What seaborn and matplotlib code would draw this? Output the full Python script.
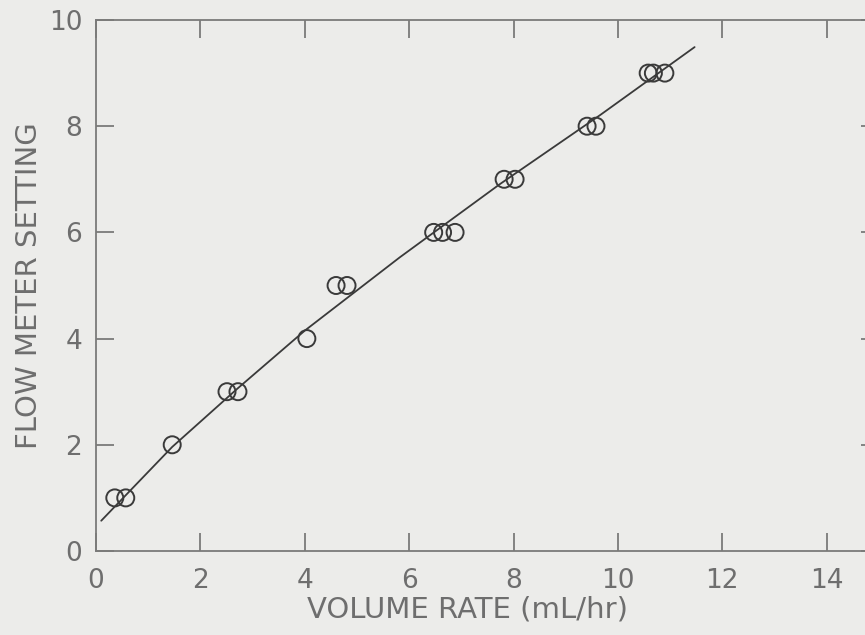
# Flow meter calibration: setting vs volume rate
import numpy as np
import pandas as pd
import matplotlib
matplotlib.use('Agg')
import matplotlib.pyplot as plt
import seaborn as sns

volume_rate = [0.36, 0.57, 1.46, 2.51, 2.72, 4.04, 4.60, 4.81,
               6.47, 6.64, 6.88, 7.82, 8.03, 9.41, 9.58, 10.58, 10.68, 10.90]
meter_setting = [1, 1, 2, 3, 3, 4, 5, 5,
                 6, 6, 6, 7, 7, 8, 8, 9, 9, 9]

# Calibration curve
curve_x = [0.10, 1.46, 2.70, 4.00, 5.82, 7.74, 9.66, 11.47]
curve_y = [0.57, 1.96, 3.05, 4.15, 5.53, 6.91, 8.21, 9.49]

x_ticks = [0, 2, 4, 6, 8, 10, 12, 14]
y_ticks = [0, 2, 4, 6, 8, 10]

points = pd.DataFrame({'rate': volume_rate, 'setting': meter_setting})
curve = pd.DataFrame({'rate': curve_x, 'setting': curve_y})

sns.set_theme(style='ticks')
plt.rcParams['font.family'] = ['DejaVu Sans']

paper = '#ececea'
ink = '#3a3a3a'
text_gray = '#6e6e6e'
axis_gray = '#7a7a7a'

fig = plt.figure(figsize=(8.65, 6.35), dpi=100, facecolor=paper)
ax = fig.add_axes([0.111, 0.1323, 0.905, 0.8362])
ax.set_facecolor(paper)

sns.lineplot(data=curve, x='rate', y='setting', ax=ax, color=ink,
             linewidth=1.3, sort=False, estimator=None)
sns.scatterplot(data=points, x='rate', y='setting', ax=ax, marker='o',
                s=150, facecolor='none', edgecolor=ink, linewidth=1.4)

ax.set_xlim(0, 15)
ax.set_ylim(0, 10)
ax.set_xticks(x_ticks)
ax.set_yticks(y_ticks)

for side in ['left', 'right', 'top', 'bottom']:
    ax.spines[side].set_visible(True)
    ax.spines[side].set_color(axis_gray)
    ax.spines[side].set_linewidth(1.3)

ax.tick_params(axis='both', direction='in', length=13, width=1.3,
               color=axis_gray, labelcolor=text_gray, labelsize=19,
               top=True, right=True)
ax.tick_params(axis='x', pad=12)
ax.tick_params(axis='y', pad=10)

ax.set_xlabel('VOLUME RATE (mL/hr)', fontsize=21, color=text_gray)
ax.set_ylabel('FLOW METER SETTING', fontsize=21, color=text_gray)
ax.xaxis.set_label_coords(0.474, -0.083)
ax.yaxis.set_label_coords(-0.068, 0.5)

fig.savefig('out.png', dpi=100, facecolor=paper)
